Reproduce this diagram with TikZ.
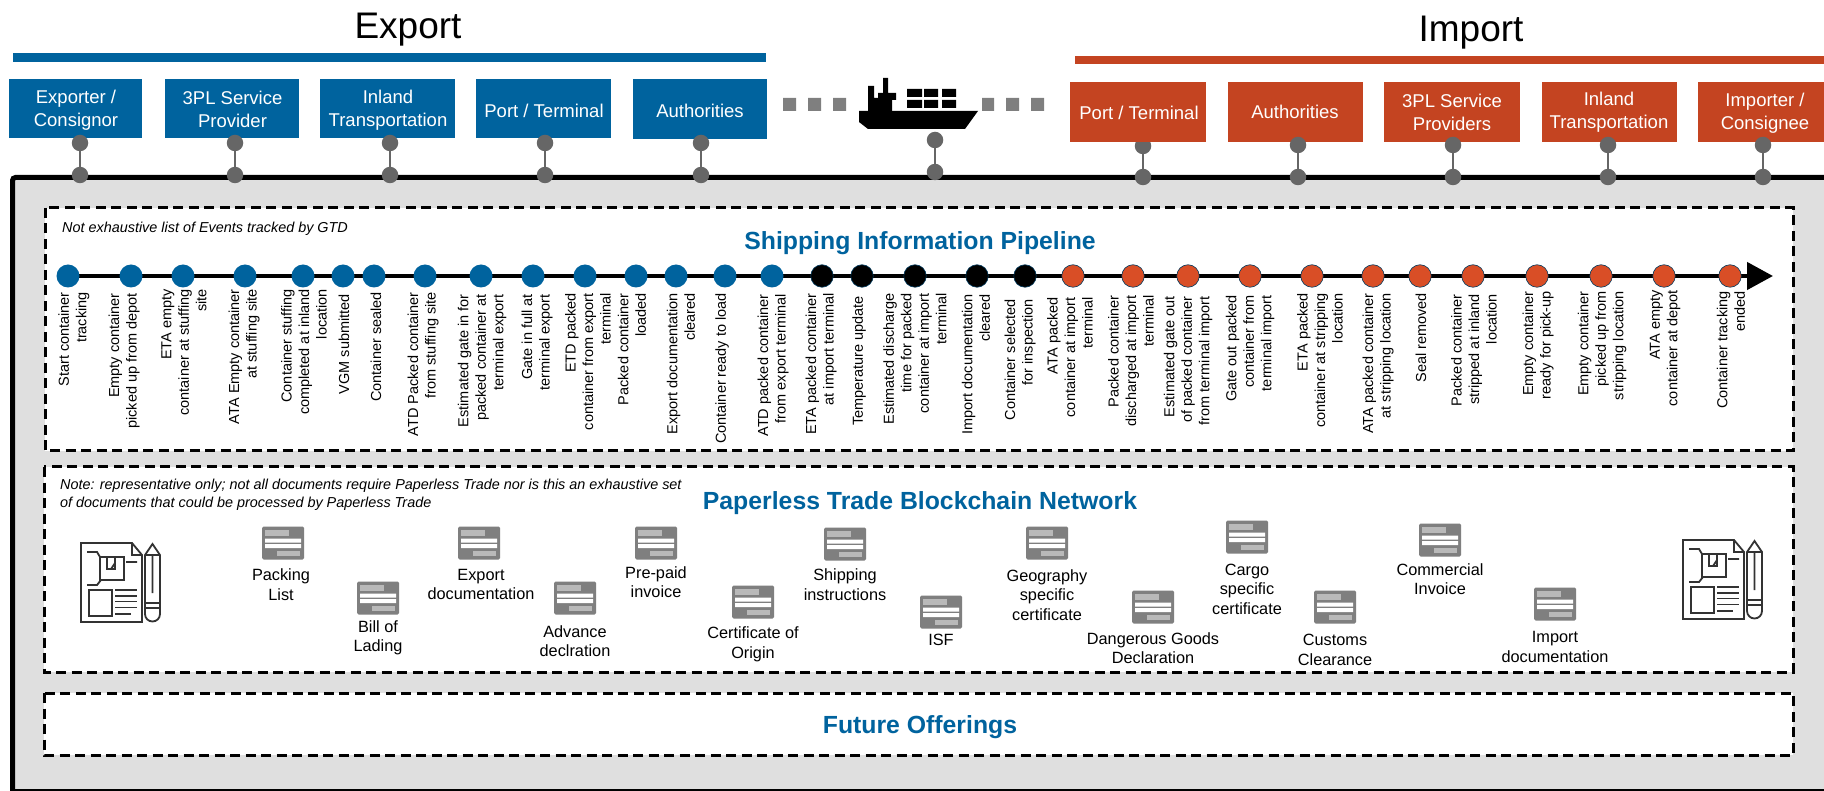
\documentclass[tikz,border=0pt]{standalone}
\usepackage{fontspec}
\setmainfont{Liberation Sans}
\usetikzlibrary{arrows.meta}
\definecolor{expblue}{HTML}{00639E}
\definecolor{impred}{HTML}{C44421}
\definecolor{dotred}{HTML}{D94E26}
\definecolor{panelgray}{HTML}{DFDFDF}
\definecolor{pingray}{HTML}{666666}
\definecolor{sqgray}{HTML}{7F7F7F}
\definecolor{icongray}{HTML}{333333}
\tikzset{
	headtext/.style={font=\fontsize{37}{44}\selectfont,inner sep=0pt,anchor=base},
	expbox/.style={fill=expblue,inner sep=0pt},
	impbox/.style={fill=impred,inner sep=0pt},
	boxtext/.style={text=white,align=center,inner sep=0pt,font=\fontsize{18.5}{22.8}\selectfont},
	pindot/.style={circle,fill=pingray,minimum size=16.5pt,inner sep=0pt},
	pinline/.style={draw=pingray,line width=2.2pt},
	dashbox/.style={draw=black,fill=white,line width=3pt,dash pattern=on 10pt off 5.5pt},
	tracktitle/.style={font=\fontsize{24.8}{30}\selectfont\bfseries,text=expblue,inner sep=0pt},
	notetext/.style={font=\fontsize{14.4}{17.5}\selectfont\itshape,align=left,anchor=north west,inner sep=0pt},
	evblue/.style={circle,fill=expblue,minimum size=23pt,inner sep=0pt},
	evblack/.style={circle,fill=black,draw=expblue!60!black,line width=.6pt,minimum size=22.5pt,inner sep=0pt},
	evred/.style={circle,fill=dotred,draw=expblue!60!black,line width=.6pt,minimum size=22.5pt,inner sep=0pt},
	evtext/.style={rotate=90,anchor=east,align=right,inner sep=0pt,font=\fontsize{14.5}{17.5}\selectfont},
	doctext/.style={align=center,inner sep=0pt,font=\fontsize{16.3}{19.5}\selectfont},
	sqbit/.style={fill=sqgray},
	docicon/.pic={
		\fill[sqgray,rounded corners=1.5pt] (-21,-16.5) rectangle (21,16.5);
		\fill[gray!55] (-18,-13) rectangle (6,-7);
		\fill[white] (-18,-4.5) rectangle (18,-.5) (-18,1) rectangle (18,5);
		\fill[gray!55] (-6,7.5) rectangle (17,13);
	},
	bigdoc/.pic={
		\begin{scope}[draw=icongray,line width=1.8pt]
		\draw (0,0) -- (51,0) -- (61,12) -- (61,79) -- (0,79) -- cycle (51,0) -- (51,12) -- (61,12);
		\draw (19,14) rectangle (43,37) (26,14) -- (26,26) -- (34,26) -- (34,14) (30,26) -- (34,20);
		\draw (6,9) -- (16,9) -- (19,14) (45,19) -- (56,19) (6,42) -- (16,42) -- (20,37);
		\draw (8,47) rectangle (31,73);
		\draw (34,47) -- (56,47) (34,53) -- (56,53) (34,58.5) -- (56,58.5) (34,64.5) -- (56,64.5) (34,71) -- (50,71);
		\draw (64,12) -- (71.5,1) -- (79,12) -- (79,71) arc (0:180:7.5) -- cycle (64,12) -- (79,12) (71.5,12) -- (71.5,50) (64,60) -- (79,60) (64,65) -- (79,65);
		\end{scope}
	}
}
\begin{document}
\begin{tikzpicture}[>=stealth,x=1pt,y=-1pt]
	\useasboundingbox (0,0) rectangle (1824,791);
	% grey panel
	\fill[panelgray] (12,177) rectangle (1824,791);
	\draw[line width=5pt,rounded corners=3pt] (1824,177.5) -- (12.5,177.5) -- (12.5,791);
	\draw[line width=2pt] (12,790) -- (1824,790);
	% headings
	\node[headtext] (export) at (408,39) {Export};
	\node[headtext] (import) at (1471,42) {Import};
	\fill[expblue] (13,53) rectangle (766,62);
	\fill[impred] (1075,56) rectangle (1824,64);
	% this pin sits behind its box
	\node[pindot] (pin7a) at (1143,146) {}; \node[pindot] (pin7b) at (1143,177) {}; \draw[pinline] (pin7a) -- (pin7b);
	% export boxes
	\node[expbox,minimum width=133pt,minimum height=59pt] (exp1) at (75.5,108.5) {};
	\node[expbox,minimum width=134pt,minimum height=59pt] (exp2) at (232,108.5) {};
	\node[expbox,minimum width=135pt,minimum height=59pt] (exp3) at (387.5,108.5) {};
	\node[expbox,minimum width=135pt,minimum height=59pt] (exp4) at (543.5,108.5) {};
	\node[expbox,minimum width=134pt,minimum height=60pt] (exp5) at (700,109) {};
	\node[boxtext] (exp1t) at (76,110.5) {Exporter /\\Consignor};
	\node[boxtext] (exp2t) at (232.5,109) {3PL Service\\Provider};
	\node[boxtext] (exp3t) at (388,110.5) {Inland\\Transportation};
	\node[boxtext] (exp4t) at (544,111) {Port / Terminal};
	\node[boxtext] (exp5t) at (700,111) {Authorities};
	% import boxes
	\node[impbox,minimum width=136pt,minimum height=60pt] (imp1) at (1138,112) {};
	\node[impbox,minimum width=135pt,minimum height=60pt] (imp2) at (1295.5,112) {};
	\node[impbox,minimum width=136pt,minimum height=60pt] (imp3) at (1452,112) {};
	\node[impbox,minimum width=135pt,minimum height=60pt] (imp4) at (1609.5,112) {};
	\node[impbox,minimum width=126pt,minimum height=60pt] (imp5) at (1761,112) {};
	\node[boxtext] (imp1t) at (1139,113) {Port / Terminal};
	\node[boxtext] (imp2t) at (1295,112) {Authorities};
	\node[boxtext] (imp3t) at (1452,112.5) {3PL Service\\Providers};
	\node[boxtext] (imp4t) at (1609,112.5) {Inland\\Transportation};
	\node[boxtext] (imp5t) at (1765,113) {Importer /\\Consignee};
	% ship and squares
	\fill[sqbit] (783,98) rectangle (796,111) (808,98) rectangle (821,111) (833,98) rectangle (846,111);
	\fill[sqbit] (982,98) rectangle (994,111) (1006,98) rectangle (1019,111) (1031,98) rectangle (1044,111);
	\fill (859,111) -- (978,111) -- (965,129) -- (868,129) -- (859,122) -- cycle;
	\fill (868,111) -- (868,86) -- (874,86) -- (874,98) -- (878,98) -- (878,93) -- (883,93) -- (883,78) -- (888,78) -- (888,93) -- (896,93) -- (896,100) -- (892,100) -- (892,111) -- cycle;
	\fill (907,89) rectangle (922,97) (924,89) rectangle (938,97) (942,89) rectangle (956,97);
	\fill (907,100) rectangle (922,108) (924,100) rectangle (938,108) (942,100) rectangle (956,108);
	% pins
	\node[pindot] (pin1a) at (80,143) {}; \node[pindot] (pin1b) at (80,175) {}; \draw[pinline] (pin1a) -- (pin1b);
	\node[pindot] (pin2a) at (235,143) {}; \node[pindot] (pin2b) at (235,175) {}; \draw[pinline] (pin2a) -- (pin2b);
	\node[pindot] (pin3a) at (390,143) {}; \node[pindot] (pin3b) at (390,175) {}; \draw[pinline] (pin3a) -- (pin3b);
	\node[pindot] (pin4a) at (545,143) {}; \node[pindot] (pin4b) at (545,175) {}; \draw[pinline] (pin4a) -- (pin4b);
	\node[pindot] (pin5a) at (701,143) {}; \node[pindot] (pin5b) at (701,175) {}; \draw[pinline] (pin5a) -- (pin5b);
	\node[pindot] (pin6a) at (935,140) {}; \node[pindot] (pin6b) at (935,172) {}; \draw[pinline] (pin6a) -- (pin6b);
	\node[pindot] (pin8a) at (1298,145) {}; \node[pindot] (pin8b) at (1298,177) {}; \draw[pinline] (pin8a) -- (pin8b);
	\node[pindot] (pin9a) at (1453,145) {}; \node[pindot] (pin9b) at (1453,177) {}; \draw[pinline] (pin9a) -- (pin9b);
	\node[pindot] (pin10a) at (1608,145) {}; \node[pindot] (pin10b) at (1608,177) {}; \draw[pinline] (pin10a) -- (pin10b);
	\node[pindot] (pin11a) at (1763,145) {}; \node[pindot] (pin11b) at (1763,177) {}; \draw[pinline] (pin11a) -- (pin11b);
	% dashed frames
	\draw[dashbox] (45,208) rectangle (1793,451);
	\draw[dashbox] (44,467) rectangle (1793,672);
	\draw[dashbox] (44,693) rectangle (1793,755);
	\node[tracktitle] (shiptitle) at (920,243) {Shipping Information Pipeline};
	\node[tracktitle] (papertitle) at (920,503) {Paperless Trade Blockchain Network};
	\node[tracktitle] (futuretitle) at (920,727.5) {Future Offerings};
	\node[notetext] (shipnote) at (62,222) {Not exhaustive list of Events tracked by GTD};
	\node[notetext] (papernote) at (60,479) {Note: representative only; not all documents require Paperless Trade nor is this an exhaustive set\\of documents that could be processed by Paperless Trade};
	% timeline
	\coordinate (linestart) at (68,276);
	\coordinate (lineend) at (1773,276);
	\draw[line width=4.5pt,-{Triangle[length=26pt,width=27pt]}] (linestart) -- (lineend);
	\node[evblue] (ev1) at (68,276) {};
	\node[evblue] (ev2) at (131,276) {};
	\node[evblue] (ev3) at (183,276) {};
	\node[evblue] (ev4) at (245,276) {};
	\node[evblue] (ev5) at (303,276) {};
	\node[evblue] (ev6) at (343,276) {};
	\node[evblue] (ev7) at (374,276) {};
	\node[evblue] (ev8) at (425,276) {};
	\node[evblue] (ev9) at (481,276) {};
	\node[evblue] (ev10) at (533,276) {};
	\node[evblue] (ev11) at (585,276) {};
	\node[evblue] (ev12) at (636,276) {};
	\node[evblue] (ev13) at (676,276) {};
	\node[evblue] (ev14) at (725,276) {};
	\node[evblue] (ev15) at (772,276) {};
	\node[evblack] (ev16) at (822,276) {};
	\node[evblack] (ev17) at (862,276) {};
	\node[evblack] (ev18) at (915,276) {};
	\node[evblack] (ev19) at (977,276) {};
	\node[evblack] (ev20) at (1025,276) {};
	\node[evred] (ev21) at (1073,276) {};
	\node[evred] (ev22) at (1133,276) {};
	\node[evred] (ev23) at (1188,276) {};
	\node[evred] (ev24) at (1250,276) {};
	\node[evred] (ev25) at (1312,276) {};
	\node[evred] (ev26) at (1373,276) {};
	\node[evred] (ev27) at (1420,276) {};
	\node[evred] (ev28) at (1473,276) {};
	\node[evred] (ev29) at (1537,276) {};
	\node[evred] (ev30) at (1601,276) {};
	\node[evred] (ev31) at (1664,276) {};
	\node[evred] (ev32) at (1730,276) {};
	% event labels
	\node[evtext] (lb1) at (74,292) {Start container\\tracking};
	\node[evtext] (lb2) at (124,293) {Empty container\\picked up from depot};
	\node[evtext] (lb3) at (184,289) {ETA empty\\container at stuffing\\site};
	\node[evtext] (lb4) at (244,289) {ATA Empty container\\at stuffing site};
	\node[evtext] (lb5) at (304,289) {Container stuffing\\completed at inland\\location};
	\node[evtext] (lb6) at (344,294) {VGM submitted};
	\node[evtext] (lb7) at (376,292) {Container sealed};
	\node[evtext] (lb8) at (423,292) {ATD Packed container\\from stuffing site};
	\node[evtext] (lb9) at (482,294) {Estimated gate in for\\packed container at\\terminal export};
	\node[evtext] (lb10) at (537,294) {Gate in full at\\terminal export};
	\node[evtext] (lb11) at (588,293) {ETD packed\\container from export\\terminal};
	\node[evtext] (lb12) at (632,293) {Packed container\\loaded};
	\node[evtext] (lb13) at (681,293) {Export documentation\\cleared};
	\node[evtext] (lb14) at (722,293) {Container ready to load};
	\node[evtext] (lb15) at (773,294) {ATD packed container\\from export terminal};
	\node[evtext] (lb16) at (821,293) {ETA packed container\\at import terminal};
	\node[evtext] (lb17) at (859,296) {Temperature update};
	\node[evtext] (lb18) at (915,293) {Estimated discharge\\time for packed\\container at import\\terminal};
	\node[evtext] (lb19) at (976,294) {Import documentation\\cleared};
	\node[evtext] (lb20) at (1020,299) {Container selected\\for inspection};
	\node[evtext] (lb21) at (1070,297) {ATA packed\\container at import\\terminal};
	\node[evtext] (lb22) at (1131,295) {Packed container\\discharged at import\\terminal};
	\node[evtext] (lb23) at (1188,296) {Estimated gate out\\of packed container\\from terminal import};
	\node[evtext] (lb24) at (1250,295) {Gate out packed\\container from\\terminal import};
	\node[evtext] (lb25) at (1320,293) {ETA packed\\container at stripping\\location};
	\node[evtext] (lb26) at (1378,293) {ATA packed container\\at stripping location};
	\node[evtext] (lb27) at (1421,293) {Seal removed};
	\node[evtext] (lb28) at (1474,294) {Packed container\\stripped at inland\\location};
	\node[evtext] (lb29) at (1538,291) {Empty container\\ready for pick-up};
	\node[evtext] (lb30) at (1602,291) {Empty container\\picked up from\\stripping location};
	\node[evtext] (lb31) at (1665,290) {ATA empty\\container at depot};
	\node[evtext] (lb32) at (1731,291) {Container tracking\\ended};
	% documents
	\pic at (81,543) {bigdoc};
	\pic at (1683,540) {bigdoc};
	\pic at (283,543) {docicon}; \node[doctext] (doc1) at (281,584.5) {Packing\\List};
	\pic at (378,598) {docicon}; \node[doctext] (doc2) at (378,638) {Bill of\\Lading};
	\pic at (479,543) {docicon}; \node[doctext] (doc3) at (481,584.5) {Export\\documentation};
	\pic at (575,598) {docicon}; \node[doctext] (doc4) at (575,641) {Advance\\declration};
	\pic at (656,543) {docicon}; \node[doctext] (doc5) at (656,582) {Pre-paid\\invoice};
	\pic at (753,602) {docicon}; \node[doctext] (doc6) at (753,644.5) {Certificate of\\Origin};
	\pic at (845,544) {docicon}; \node[doctext] (doc7) at (845,584.5) {Shipping\\instructions};
	\pic at (941,612) {docicon}; \node[doctext] (doc8) at (941,640) {ISF};
	\pic at (1047,543) {docicon}; \node[doctext] (doc9) at (1047,595) {Geography\\specific\\certificate};
	\pic at (1153,607) {docicon}; \node[doctext] (doc10) at (1153,648) {Dangerous Goods\\Declaration};
	\pic at (1247,537) {docicon}; \node[doctext] (doc11) at (1247,589) {Cargo\\specific\\certificate};
	\pic at (1335,607) {docicon}; \node[doctext] (doc12) at (1335,650) {Customs\\Clearance};
	\pic at (1440,540) {docicon}; \node[doctext] (doc13) at (1440,579) {Commercial\\Invoice};
	\pic at (1555,604) {docicon}; \node[doctext] (doc14) at (1555,647) {Import\\documentation};
\end{tikzpicture}
\end{document}
